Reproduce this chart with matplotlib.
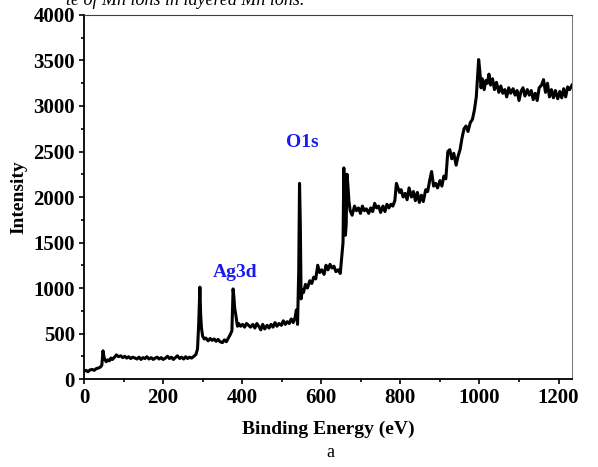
import numpy as np
import matplotlib
matplotlib.use("Agg")
import matplotlib.pyplot as plt
from matplotlib.ticker import MultipleLocator

plt.rcParams['font.family'] = ['Liberation Serif', 'DejaVu Serif']

# XPS survey spectrum (binding energy, intensity)
energy = [0, 5, 10, 15, 21, 26, 31, 36, 41, 45, 48, 51, 56, 60, 64, 68, 72, 77, 82, 87,
          93, 98, 103, 108, 113, 118, 123, 129, 134, 139, 144, 149, 154, 159, 164, 170,
          175, 180, 185, 190, 195, 200, 206, 211, 216, 221, 226, 231, 236, 242, 247, 252,
          257, 262, 267, 272, 278, 283, 287, 290, 293, 295, 297, 300, 304, 308, 314, 319,
          324, 329, 334, 339, 344, 350, 355, 360, 365, 370, 374, 377, 379, 381, 384, 388,
          391, 396, 401, 406, 411, 416, 421, 427, 432, 437, 442, 447, 452, 457, 463, 468,
          473, 478, 483, 488, 493, 499, 504, 509, 514, 519, 524, 529, 534, 537, 540, 543,
          545, 547, 549, 552, 555, 560, 565, 571, 576, 581, 586, 591, 596, 601, 607, 612,
          617, 622, 627, 632, 637, 643, 648, 652, 655, 657, 659, 661, 663, 665, 667, 670,
          673, 678, 684, 689, 694, 699, 704, 709, 714, 720, 725, 730, 735, 740, 745, 750,
          756, 761, 766, 771, 776, 781, 786, 790, 794, 798, 802, 807, 812, 817, 822, 828,
          833, 838, 843, 848, 853, 858, 864, 869, 874, 879, 884, 889, 894, 900, 905, 910,
          915, 920, 925, 930, 935, 941, 946, 951, 956, 961, 966, 971, 977, 982, 987, 992,
          995, 998, 1001, 1004, 1007, 1012, 1016, 1020, 1024, 1028, 1033, 1038, 1043, 1049, 1054,
          1059, 1064, 1069, 1074, 1079, 1085, 1090, 1095, 1100, 1105, 1110, 1115, 1121,
          1126, 1131, 1136, 1141, 1146, 1151, 1157, 1162, 1167, 1172, 1177, 1182, 1187,
          1192, 1198, 1203, 1208, 1213, 1218, 1223, 1228, 1234]
intensity = [85, 95, 80, 100, 105, 95, 115, 120, 130, 150, 310, 230, 190, 210, 200, 230, 215, 240, 265, 245,
             255, 235, 250, 230, 245, 225, 240, 230, 220, 240, 215, 235, 225, 245, 220, 235,
             215, 230, 240, 220, 235, 215, 230, 250, 225, 240, 215, 235, 255, 225, 240, 220,
             245, 225, 240, 230, 250, 270, 330, 600, 1010, 700, 560, 470, 440, 450, 420, 445,
             425, 440, 415, 435, 410, 400, 430, 410, 450, 490, 530, 990, 900, 780, 700, 580,
             610, 580, 600, 570, 610, 590, 570, 600, 560, 610, 580, 540, 600, 550, 590, 560,
             600, 570, 620, 580, 610, 590, 640, 600, 630, 610, 660, 620, 680, 760, 600, 1200,
             2150, 1700, 880, 980, 950, 1040, 1000, 1080, 1050, 1120, 1100, 1250, 1170, 1200, 1150, 1250,
             1200, 1260, 1220, 1240, 1180, 1200, 1160, 1350, 1500, 2320, 1800, 1580, 1700, 2250, 2150, 1950,
             1850, 1800, 1900, 1850, 1880, 1820, 1900, 1850, 1870, 1820, 1880, 1840, 1930, 1880, 1900, 1830,
             1900, 1840, 1920, 1880, 1920, 1900, 1960, 2150, 2100, 2050, 2080, 2000, 2040, 1970, 2100, 2000,
             2060, 1960, 2050, 1940, 2020, 1950, 2080, 2060, 2180, 2280, 2120, 2150, 2100, 2180, 2120, 2230,
             2200, 2500, 2520, 2420, 2480, 2350, 2450, 2520, 2650, 2750, 2780, 2720, 2820, 2850, 2950, 3100,
             3300, 3510, 3380, 3200, 3300, 3180, 3280, 3250, 3350, 3230, 3300, 3180, 3260, 3150, 3220,
             3140, 3180, 3100, 3200, 3140, 3190, 3120, 3170, 3060, 3160, 3200, 3110, 3180,
             3120, 3170, 3070, 3140, 3060, 3200, 3230, 3290, 3150, 3250, 3100, 3180, 3090,
             3170, 3080, 3160, 3090, 3190, 3100, 3210, 3180, 3230]

fig = plt.figure(figsize=(5.98, 4.67), dpi=100)
ax = fig.add_axes([0.1405, 0.1884, 0.816, 0.7795])

ax.plot(energy, intensity, color='black', linewidth=2.2)

ax.set_xlim(0, 1234)
ax.set_ylim(0, 4000)
ax.xaxis.set_major_locator(MultipleLocator(200))
ax.xaxis.set_minor_locator(MultipleLocator(100))
ax.yaxis.set_major_locator(MultipleLocator(500))
ax.yaxis.set_minor_locator(MultipleLocator(250))
ax.tick_params(which='both', direction='out', top=False, right=False, width=1.2)
ax.tick_params(which='major', length=3.6, labelsize=15, pad=3)
ax.tick_params(which='minor', length=2.2)
for lbl in ax.get_xticklabels() + ax.get_yticklabels():
    lbl.set_fontweight('bold')

ax.spines['left'].set_linewidth(1.3)
ax.spines['bottom'].set_linewidth(1.3)
ax.spines['top'].set_color('#404040')
ax.spines['right'].set_color('#808080')

ax.set_xlabel('Binding Energy (eV)', fontsize=14, fontweight='bold', labelpad=9)
ax.set_ylabel('Intensity', fontsize=14, fontweight='bold', labelpad=4)

ax.text(382, 1170, 'Ag3d', color='#1a1aee', fontsize=14, fontweight='bold', ha='center', va='center')
ax.text(552, 2600, 'O1s', color='#1a1aee', fontsize=14, fontweight='bold', ha='center', va='center')

fig.text(0.552, 0.030, 'a', fontsize=13, ha='center', va='center')
fig.text(0.11, 1.0, 'te of Mn ions in layered Mn ions.', fontsize=13, style='italic',
         ha='left', va='center')

fig.savefig('out.png', dpi=100)
